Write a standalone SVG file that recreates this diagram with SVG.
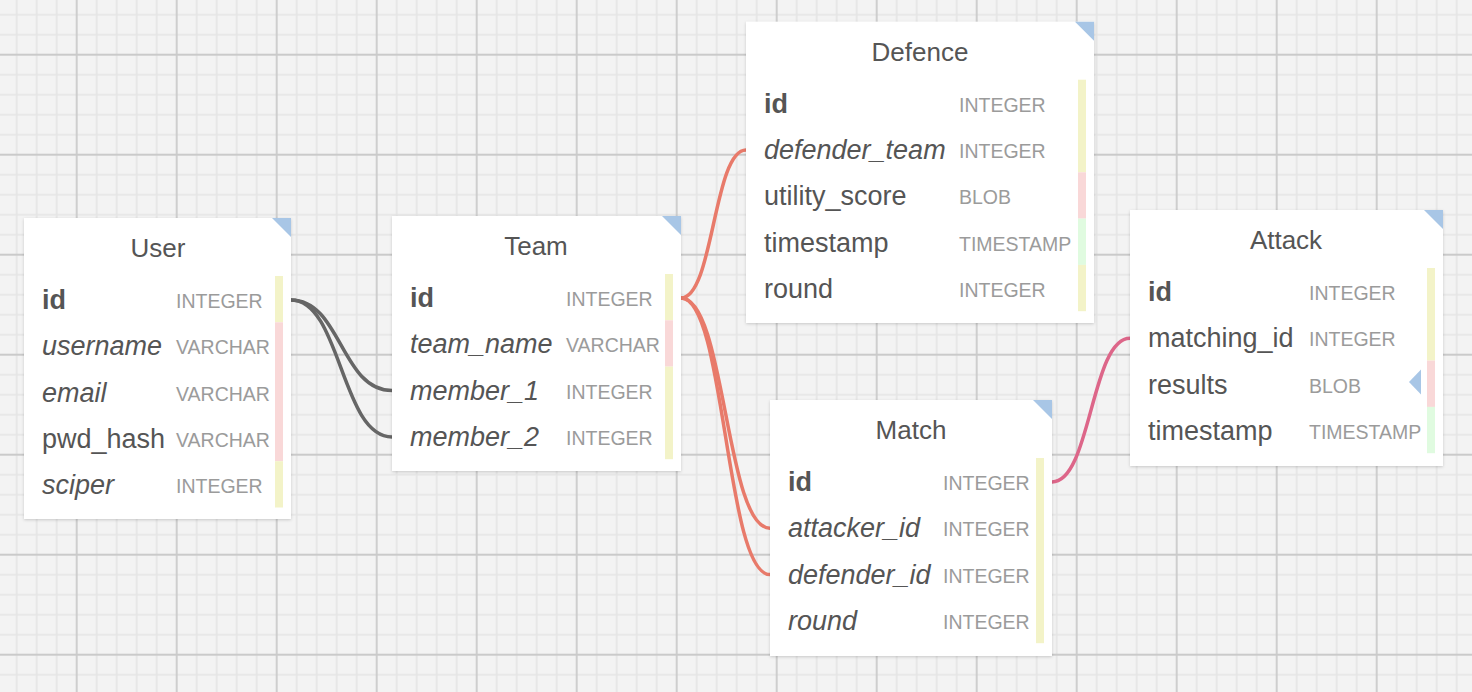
<svg xmlns="http://www.w3.org/2000/svg" width="1472" height="692" viewBox="0 0 1472 692">
<style>
.box{fill:#fff;filter:url(#sh)}
.corner{fill:#a8c6e6}
.title{font-family:"Liberation Sans",Arial,sans-serif;font-size:26px;fill:#555;text-anchor:middle}
.nm{font-family:"Liberation Sans",Arial,sans-serif;font-size:27px;fill:#555}
.pk{font-weight:bold}
.fk{font-style:italic}
.ty{font-family:"Liberation Sans",Arial,sans-serif;font-size:19.5px;fill:#9b9b9b}
.y{fill:#f3f3c8}
.p{fill:#f9d8d8}
.g{fill:#e0fbe0}
.c{fill:none;stroke-width:3.5;stroke-linecap:round}
.gray{stroke:#666}
.sal{stroke:#e87a6a}
.pink{stroke:#dd6689}
</style>
<defs>
<pattern id="grid" width="100" height="100" patternUnits="userSpaceOnUse" x="26.7" y="4.7">
<rect width="100" height="100" fill="#f3f3f3"/>
<path d="M10 0V100M30 0V100M70 0V100M90 0V100M0 10H100M0 30H100M0 70H100M0 90H100" stroke="#e5e5e5" stroke-width="1.6"/>
<path d="M50 0V100M0 50H100" stroke="#cacaca" stroke-width="1.8"/>
</pattern>
<filter id="sh" x="-10%" y="-10%" width="120%" height="120%">
<feDropShadow dx="0" dy="1" stdDeviation="1.6" flood-color="#000" flood-opacity="0.18"/>
</filter>
</defs>
<rect width="1472" height="692" fill="url(#grid)"/>

<g id="connectors">
<path class="c gray" d="M291 300 C341 300 341 390.6 392 390.6"/>
<path class="c gray" d="M291 300 C341 300 341 436.9 392 436.9"/>
<path class="c sal" d="M681 298 C713.5 298 713.5 150 746 150"/>
<path class="c sal" d="M681 298 C725.5 298 725.5 528.3 770 528.3"/>
<path class="c sal" d="M681 298 C725.5 298 725.5 574.6 770 574.6"/>
<path class="c pink" d="M1052 482 C1091 482 1091 338.3 1130 338.3"/>
</g>

<g id="User">
<rect class="box" x="24" y="218" width="267" height="301"/>
<polygon class="corner" points="272,218 291,218 291,237"/>
<text class="title" x="158" y="257">User</text>
<rect class="y" x="275" y="276" width="8" height="46.3"/>
<rect class="p" x="275" y="322.3" width="8" height="138.9"/>
<rect class="y" x="275" y="461.2" width="8" height="46.3"/>
<text class="nm pk" x="42" y="309">id</text><text class="ty" x="176" y="308">INTEGER</text>
<text class="nm fk" x="42" y="355.3">username</text><text class="ty" x="176" y="354.3">VARCHAR</text>
<text class="nm fk" x="42" y="401.6">email</text><text class="ty" x="176" y="400.6">VARCHAR</text>
<text class="nm" x="42" y="447.9">pwd_hash</text><text class="ty" x="176" y="446.9">VARCHAR</text>
<text class="nm fk" x="42" y="494.2">sciper</text><text class="ty" x="176" y="493.2">INTEGER</text>
</g>

<g id="Team">
<rect class="box" x="392" y="216" width="289" height="255"/>
<polygon class="corner" points="662,216 681,216 681,235"/>
<text class="title" x="536" y="255">Team</text>
<rect class="y" x="665" y="274" width="8" height="46.3"/>
<rect class="p" x="665" y="320.3" width="8" height="46.3"/>
<rect class="y" x="665" y="366.6" width="8" height="92.6"/>
<text class="nm pk" x="410" y="307">id</text><text class="ty" x="566" y="306">INTEGER</text>
<text class="nm fk" x="410" y="353.3">team_name</text><text class="ty" x="566" y="352.3">VARCHAR</text>
<text class="nm fk" x="410" y="399.6">member_1</text><text class="ty" x="566" y="398.6">INTEGER</text>
<text class="nm fk" x="410" y="445.9">member_2</text><text class="ty" x="566" y="444.9">INTEGER</text>
</g>

<g id="Defence">
<rect class="box" x="746" y="21.7" width="348" height="301.3"/>
<polygon class="corner" points="1075,21.7 1094,21.7 1094,40.7"/>
<text class="title" x="920" y="60.7">Defence</text>
<rect class="y" x="1078" y="79.7" width="8" height="92.6"/>
<rect class="p" x="1078" y="172.3" width="8" height="46.3"/>
<rect class="g" x="1078" y="218.6" width="8" height="46.3"/>
<rect class="y" x="1078" y="264.9" width="8" height="46.3"/>
<text class="nm pk" x="764" y="112.7">id</text><text class="ty" x="959" y="111.7">INTEGER</text>
<text class="nm fk" x="764" y="159">defender_team</text><text class="ty" x="959" y="158">INTEGER</text>
<text class="nm" x="764" y="205.3">utility_score</text><text class="ty" x="959" y="204.3">BLOB</text>
<text class="nm" x="764" y="251.6">timestamp</text><text class="ty" x="959" y="250.6">TIMESTAMP</text>
<text class="nm" x="764" y="297.9">round</text><text class="ty" x="959" y="296.9">INTEGER</text>
</g>

<g id="Match">
<rect class="box" x="770" y="400" width="282" height="256"/>
<polygon class="corner" points="1033,400 1052,400 1052,419"/>
<text class="title" x="911" y="439">Match</text>
<rect class="y" x="1036" y="458" width="8" height="185.2"/>
<text class="nm pk" x="788" y="491">id</text><text class="ty" x="943" y="490">INTEGER</text>
<text class="nm fk" x="788" y="537.3">attacker_id</text><text class="ty" x="943" y="536.3">INTEGER</text>
<text class="nm fk" x="788" y="583.6">defender_id</text><text class="ty" x="943" y="582.6">INTEGER</text>
<text class="nm fk" x="788" y="629.9">round</text><text class="ty" x="943" y="628.9">INTEGER</text>
</g>

<g id="Attack">
<rect class="box" x="1130" y="210" width="313" height="256"/>
<polygon class="corner" points="1424,210 1443,210 1443,229"/>
<text class="title" x="1286" y="249">Attack</text>
<rect class="y" x="1427" y="268" width="8" height="92.6"/>
<rect class="p" x="1427" y="360.6" width="8" height="46.3"/>
<rect class="g" x="1427" y="406.9" width="8" height="46.3"/>
<polygon class="corner" points="1409,382 1421,369.5 1421,394.5"/>
<text class="nm pk" x="1148" y="301">id</text><text class="ty" x="1309" y="300">INTEGER</text>
<text class="nm" x="1148" y="347.3">matching_id</text><text class="ty" x="1309" y="346.3">INTEGER</text>
<text class="nm" x="1148" y="393.6">results</text><text class="ty" x="1309" y="392.6">BLOB</text>
<text class="nm" x="1148" y="439.9">timestamp</text><text class="ty" x="1309" y="438.9">TIMESTAMP</text>
</g>
</svg>
